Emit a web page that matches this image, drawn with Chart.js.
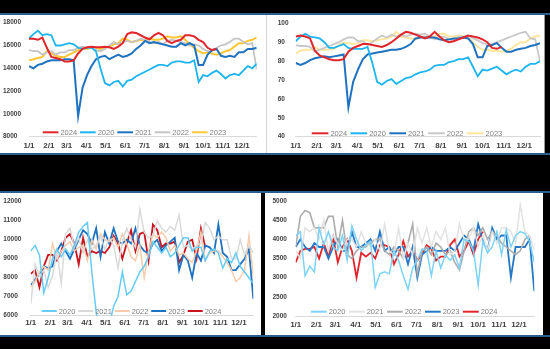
<!DOCTYPE html>
<html>
<head>
<meta charset="utf-8">
<script src="https://cdn.jsdelivr.net/npm/chart.js@4.4.0/dist/chart.umd.min.js"></script>
<style>
  body { margin: 0; background: #000; }
  #page { position: relative; width: 550px; height: 349px; background: #000; overflow: hidden; }
  .bar { position: absolute; left: 0; width: 550px; height: 2px; background: #2b5d8e; }
  .panel { position: absolute; background: #fff; }
  canvas { display: block; }
</style>
</head>
<body>
<div id="page">
  <div class="bar" style="top:13px"></div>
  <div class="panel" style="left:0;top:15px;width:266px;height:138px;border-right:1px solid #d4d4d4"><canvas id="tl" width="266" height="138"></canvas></div>
  <div class="panel" style="left:267px;top:15px;width:277px;height:138px;border-right:1px solid #9a9a9a"><canvas id="tr" width="277" height="138"></canvas></div>
  <div class="bar" style="top:153px"></div>
  <div class="bar" style="top:191px"></div>
  <div class="panel" style="left:0;top:193px;width:261px;height:142px"><canvas id="bl" width="261" height="142"></canvas></div>
  <div class="panel" style="left:265px;top:193px;width:278px;height:142px"><canvas id="br" width="278" height="142"></canvas></div>
  <div class="bar" style="top:335px"></div>
</div>
<script>
// month ticks (day of year) and their labels
const monthDays = [0, 31, 59, 90, 120, 151, 181, 212, 243, 273, 304, 334];
const monthLabels = ['1/1', '2/1', '3/1', '4/1', '5/1', '6/1', '7/1', '8/1', '9/1', '10/1', '11/1', '12/1'];

// top-left panel, weekly
const tl2024 = [16600,16600,16500,16700,15800,15000,14900,14800,14600,14600,14700,15300,15700,15850,15900,15850,15850,15900,15850,15700,15900,16200,17000,17150,17100,16900,16700,16550,16900,17100,16900,16400,16200,16400,16500,16900,16900,16800,16500,16300,15800,15600,15700];
const tl2020 = [16600,17000,17300,16900,17000,16900,16000,16000,16100,16200,16100,15800,15700,15800,15800,15500,14000,12700,12500,12800,12900,12400,12900,13000,13300,13500,13700,13900,14100,14300,14300,14200,14500,14600,14600,14500,14500,14700,12800,13400,13300,13600,13800,13500,13100,13400,13500,13400,13800,14200,14000,14400];
const tl2021 = [14200,14000,14300,14400,14600,14700,14700,14700,14800,14800,14700,9800,12300,13400,14200,14800,15000,15100,14800,15000,15200,15000,15100,15300,15700,16000,16400,16200,16300,16200,16100,16000,15900,15900,16200,16000,16200,16000,14300,14300,15200,15600,15700,15100,15000,15100,15000,15400,15400,15700,15700,15800];
const tl2022 = [15600,15500,15500,15200,15400,15500,15200,15400,15400,15600,15600,15800,15900,15800,15900,15600,15500,15700,16000,16300,16100,16300,16400,16300,16400,16600,16500,16300,16200,16300,16100,16400,16500,16400,16300,16200,16000,16100,16000,15700,15500,15500,15800,16000,16100,16300,16600,16600,16300,16100,16200,13900];
const tl2023 = [14700,14800,14900,15000,15500,15300,15100,15000,15000,15200,15400,15600,15800,15700,15800,15800,15700,15800,15900,16100,16200,16600,16500,16300,16400,16500,16400,16600,16500,16500,16600,16800,16700,16700,16800,16500,16100,15800,15500,15300,15400,15300,15200,15300,15500,15600,15900,16200,16200,16400,16500,16700];

// top-right panel, weekly
const tr2024 = [93,93.5,93,92,85.5,83,82,81,80.5,80.5,81,85,87,88,89,89,88.5,88,87.5,88.5,90,92,94,95.5,95,94,93,92,93,95.5,93,91,90,90.5,91.5,92.5,93.5,93,92.5,91.5,90,87,86.5,87.5];
const tr2020 = [90.5,93,94.5,93,92.5,92,90,87,87,88,89,87,86.5,86.5,86.5,87.5,79,69,67.5,69.5,70.5,68,69.5,71,71.5,73,74,74.5,75.5,77.5,78,78,79.5,80,81,81,82,77,72,75.5,75,76,77,75,73,74.5,75.5,74.5,77,78.5,78.5,80];
const tr2021 = [79,78,79,80.5,81.5,82,82.5,82,82.5,83,83.5,55.5,69,75.5,81,83.5,84,84.5,85,85.5,86,86,86.5,87.5,89,92,92.5,92.5,92.5,92.5,91.5,91,91.5,92,92,92.5,92,89,82,82,88,88.5,89.5,87,85,85,86,86.5,87,88,88.5,89.5];
const tr2022 = [88.5,88,88,87.5,85,86,87,88,89,90,91.5,92.5,92.5,90.5,90.5,88.5,90,92,93.5,92.5,94,93,94,93,94,94.5,94,94.5,93,91.5,93,93,91.5,91,93,93,93.5,92,91,89.5,89,89,90,91,92,93,94,95,95.5,92,91.5,80];
const tr2023 = [84,85.5,86,86,87.5,86,86,86,86.5,88.5,90,89.5,89,89.5,91,91,90.5,91,91.5,92,93,95.5,93,92.5,92,91.5,92.5,93,93,93,94.5,94.5,93,93,93.5,93,92.5,90,87.5,86,86,85.5,85.5,85,85.5,86.5,88.5,90,90,92,93,93.5];

// bottom-left panel, weekly
const bl2020 = [9400,9700,9200,7200,8000,9000,9500,9100,9500,9200,9700,10400,10700,10900,8300,6200,5000,5000,5500,6500,7000,8300,7100,7300,7800,8300,8600,9100,9900,9600,9300,9600,9100,9300,9700,10100,10100,9400,9600,9600,8900,9400,9500,9300,8500,9000,8800,9300,8600,8300,8000,7700];
const bl2021 = [6600,8700,8100,8400,7500,8100,9400,7700,10300,10600,9600,10100,9300,10000,9500,9700,10200,9500,10100,9700,8500,9900,10600,10000,9600,11600,10400,10100,10200,11000,10600,10400,10700,10500,11300,9600,9700,9500,9700,9800,10900,10600,10000,10200,10000,10000,9000,9000,10000,9200,9700,9300];
const bl2022 = [7500,7800,8300,8600,8400,9800,9000,9400,9700,9900,9400,9600,9700,8900,10000,9500,10300,10000,9900,10100,9600,10300,9800,9100,8900,9700,8000,9400,10300,10100,10400,10100,9400,9700,9200,9300,9000,8800,9400,10400,8900,9300,9400,9400,9100,8800,8400,7800,8000,8400,10200,8100];
const bl2023 = [7600,7900,8200,8600,8500,8600,9400,9800,9400,9000,9500,10000,10500,10300,9800,10600,9100,10400,9800,10600,9900,9800,10000,9800,10600,9700,9400,9300,9800,10000,9400,9700,9900,10100,8400,9200,8900,8000,9300,8900,9700,9600,9300,10800,9300,9100,8400,8400,8700,9000,9500,6900];
const bl2024 = [8200,8400,7500,8600,9200,9200,8900,9400,10100,10300,9800,8700,10100,9100,9400,9300,9400,9300,9600,10200,9800,9000,9800,10500,9400,10300,10400,8900,10800,10500,9600,9800,9800,9900,8800,9200,9900,10000,9000,10600,9600];

// bottom-right panel, weekly
const br2020 = [4100,4200,3050,3300,3150,4300,3850,4200,3800,3700,4100,3450,4350,4000,3700,3850,3950,2750,3100,3150,3100,3700,3450,3050,2700,3250,3450,3750,3700,3050,3700,3250,3600,3450,3600,3250,4000,3950,3700,2800,3950,3650,3800,4200,3600,4250,3800,4100,4200,4150,3950,3400];
const br2021 = [3700,3500,4300,4200,4300,4000,4500,3700,4100,3900,3700,4000,4000,3800,4200,3900,3800,4000,3700,4400,3700,3600,4300,3500,3900,3600,4300,3900,4300,3800,4200,4000,4300,3600,3700,4400,4000,4000,4300,3800,4100,3700,4200,3900,4300,4300,4200,3900,4900,4200,4100,3700];
const br2022 = [3800,4600,4750,4700,4300,4300,4300,4600,4600,3800,4500,3600,3500,3700,3800,3800,3900,4000,4000,3700,3600,3800,3700,3500,3900,4400,3100,3700,3800,3600,3900,3800,3600,3700,3400,3200,3700,4200,4300,4100,4300,4000,4200,4100,3900,3800,3700,3600,3700,4000,4100];
const br2023 = [3800,4000,3800,3700,3900,3800,3800,3500,3800,4000,3700,3700,4200,3800,3800,3900,4000,3700,4200,3700,3800,3600,3800,3800,3350,3800,3000,3600,3700,3800,3700,3700,3700,3800,3700,3900,4100,4000,3700,4400,4000,3700,4300,4000,4100,4100,3000,3800,3800,3800,4000,2650];
const br2024 = [3400,3700,3750,3750,3800,3500,3900,3550,4050,3400,3800,4000,3700,3000,3650,3550,3650,3500,3850,3850,3800,3350,3600,3950,3550,3700,3450,3600,3850,3750,3450,3550,3550,3850,4000,3550,3700,3950,3600,4000,4200];

// legend drawn inside the plot, like the excel charts
const insideLegend = {
    id: 'insideLegend',
    afterDraw(chart, args, opts) {
        const ctx = chart.ctx;
        ctx.save();
        ctx.font = '7.5px "Liberation Sans", Arial, sans-serif';
        ctx.textBaseline = 'middle';
        chart.data.datasets.forEach((ds, k) => {
            const x = opts.x + k * opts.step;
            ctx.strokeStyle = ds.borderColor;
            ctx.lineWidth = 2;
            ctx.beginPath();
            ctx.moveTo(x, opts.y);
            ctx.lineTo(x + opts.swatch, opts.y);
            ctx.stroke();
            ctx.fillStyle = '#808080';
            ctx.fillText(ds.label, x + opts.swatch + 2, opts.y + 0.5);
        });
        ctx.restore();
    }
};

function weekly(values) {
    return values.map((v, i) => ({ x: i * 7, y: v }));
}

function buildChart(id, sets, yAxis, box, legend) {
    return new Chart(document.getElementById(id), {
        type: 'line',
        data: {
            datasets: sets.map(s => ({
                label: s.label,
                data: weekly(s.data),
                borderColor: s.color,
                borderWidth: s.width,
                pointRadius: 0,
                tension: 0,
                fill: false
            }))
        },
        options: {
            responsive: false,
            animation: false,
            devicePixelRatio: 1,
            events: [],
            layout: { padding: { left: box.left, top: box.top, right: box.right, bottom: 0 } },
            plugins: {
                legend: { display: false },
                tooltip: { enabled: false },
                insideLegend: legend
            },
            scales: {
                x: {
                    type: 'linear',
                    min: 0,
                    max: 357,
                    afterBuildTicks: s => { s.ticks = monthDays.map(d => ({ value: d })); },
                    afterFit: s => { s.height = box.xh; },
                    grid: { display: true, drawOnChartArea: false, drawTicks: false },
                    border: { display: true, color: '#d9d9d9', width: 1 },
                    ticks: {
                        autoSkip: false,
                        maxRotation: 0,
                        padding: box.xpad,
                        color: '#404040',
                        font: { family: '"Liberation Sans", Arial, sans-serif', size: 8, weight: 'bold' },
                        callback: (v, i) => monthLabels[i]
                    }
                },
                y: {
                    min: yAxis.min,
                    max: yAxis.max,
                    afterFit: s => { s.width = box.yw; },
                    grid: { display: false },
                    border: { display: false },
                    ticks: {
                        stepSize: yAxis.step,
                        crossAlign: 'far',
                        padding: 2,
                        color: '#404040',
                        font: { family: '"Liberation Sans", Arial, sans-serif', size: 6.5, weight: 'bold' },
                        callback: v => String(v)
                    }
                }
            }
        },
        plugins: [insideLegend]
    });
}

buildChart('tl', [
    { label: '2024', data: tl2024, color: '#e0262b', width: 2 },
    { label: '2020', data: tl2020, color: '#1cb5f0', width: 1.8 },
    { label: '2021', data: tl2021, color: '#1f72c0', width: 2 },
    { label: '2022', data: tl2022, color: '#c4c4c4', width: 1.8 },
    { label: '2023', data: tl2023, color: '#ffc734', width: 2 }
], { min: 8000, max: 18000, step: 2000 },
   { left: 3, top: 7.7, right: 9.3, yw: 26, xh: 16.3, xpad: 4 },
   { x: 42.7, y: 117.3, step: 37.3, swatch: 15.7 });

buildChart('tr', [
    { label: '2024', data: tr2024, color: '#e0262b', width: 2 },
    { label: '2020', data: tr2020, color: '#1cb5f0', width: 1.8 },
    { label: '2021', data: tr2021, color: '#1f72c0', width: 2 },
    { label: '2022', data: tr2022, color: '#c8c8c8', width: 1.8 },
    { label: '2023', data: tr2023, color: '#ffe69c', width: 2 }
], { min: 40, max: 100, step: 10 },
   { left: 10.7, top: 8.3, right: 4, yw: 18, xh: 16.3, xpad: 4 },
   { x: 44.7, y: 118.3, step: 38.8, swatch: 16.7 });

buildChart('bl', [
    { label: '2020', data: bl2020, color: '#66cbf5', width: 1.5 },
    { label: '2021', data: bl2021, color: '#dadada', width: 1.5 },
    { label: '2022', data: bl2022, color: '#f8cbad', width: 1.5 },
    { label: '2023', data: bl2023, color: '#1f72c0', width: 1.8 },
    { label: '2024', data: bl2024, color: '#c8141e', width: 1.8 }
], { min: 6000, max: 12000, step: 1000 },
   { left: 3.3, top: 8.7, right: 7.7, yw: 27.4, xh: 19.3, xpad: 2 },
   { x: 41.7, y: 118, step: 36.5, swatch: 15 });

buildChart('br', [
    { label: '2020', data: br2020, color: '#7dd3f7', width: 1.5 },
    { label: '2021', data: br2021, color: '#e2e2e2', width: 1.5 },
    { label: '2022', data: br2022, color: '#adadad', width: 1.6 },
    { label: '2023', data: br2023, color: '#2478c6', width: 1.8 },
    { label: '2024', data: br2024, color: '#e4242b', width: 1.8 }
], { min: 2000, max: 5000, step: 500 },
   { left: 7.5, top: 8, right: 8.7, yw: 23.2, xh: 19, xpad: 4 },
   { x: 46, y: 118.7, step: 38, swatch: 15.7 });
</script>
</body>
</html>
